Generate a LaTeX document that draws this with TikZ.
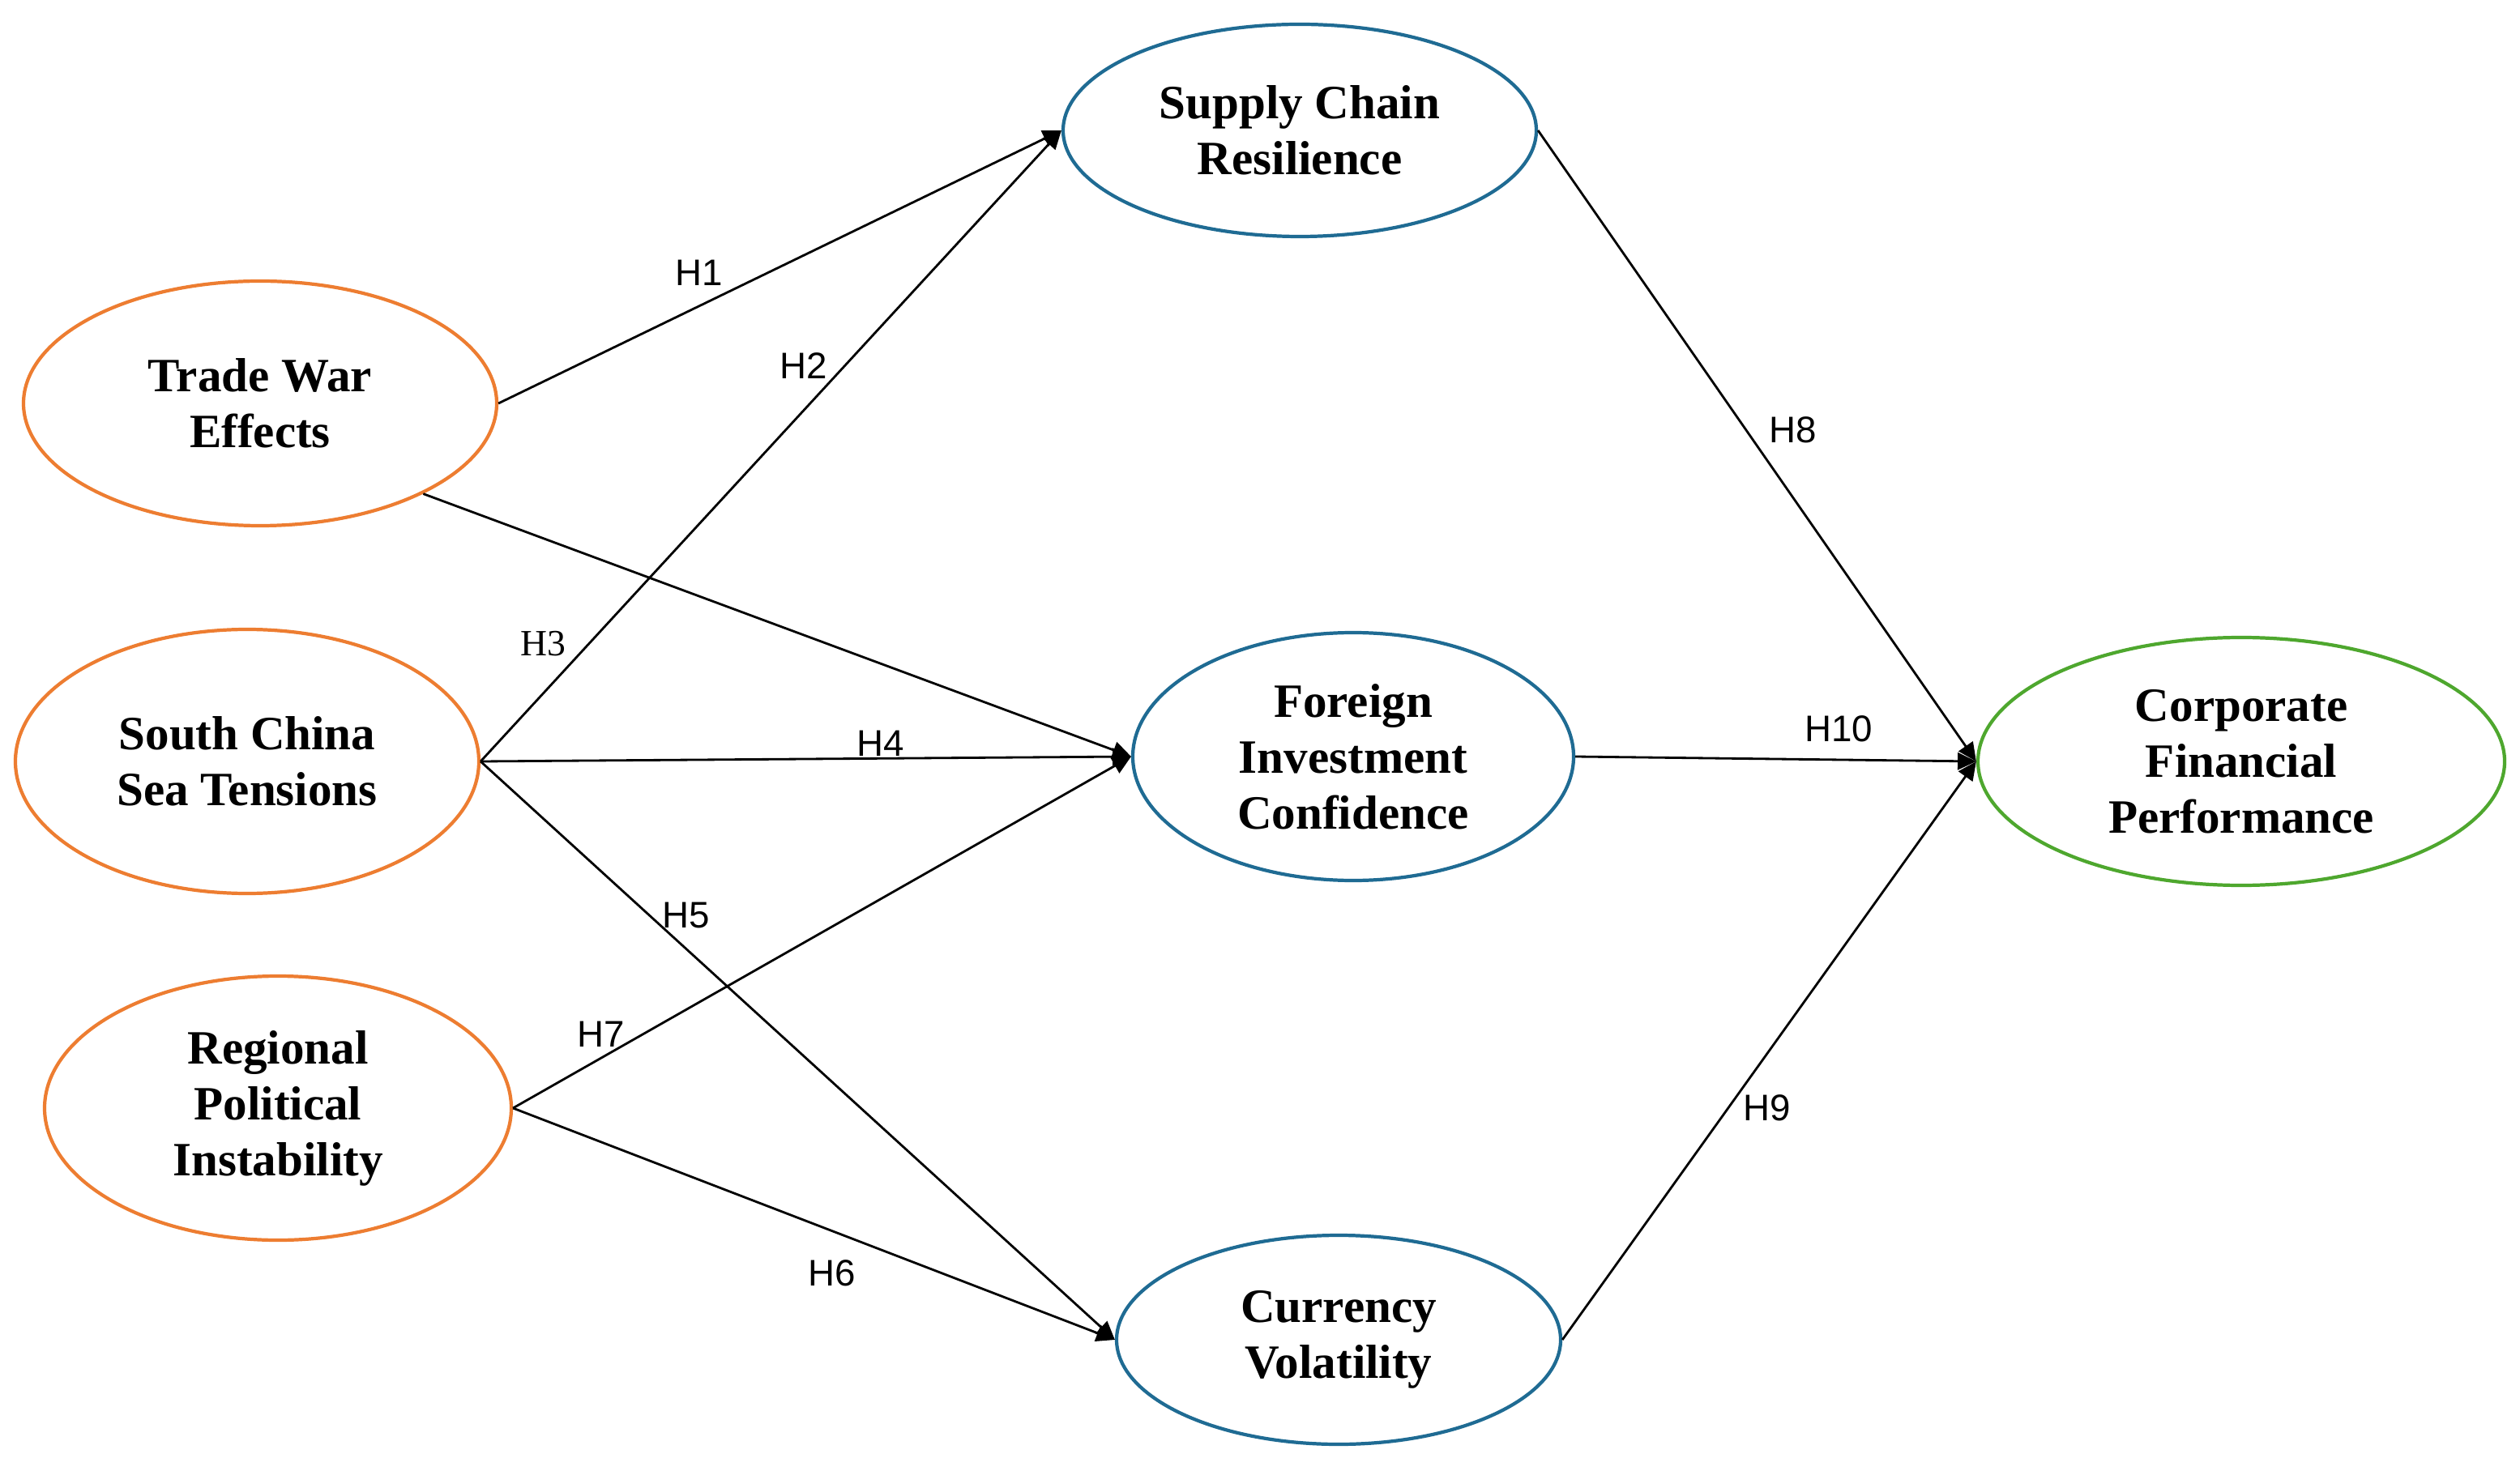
\documentclass[tikz,border=0pt]{standalone}
\usepackage{fontspec}
\setmainfont{Liberation Serif}
\newfontfamily\hfont{Liberation Sans}
\usetikzlibrary{arrows.meta, positioning, shapes.geometric}
\definecolor{indorange}{HTML}{ED7D31}
\definecolor{medblue}{HTML}{1F6B93}
\definecolor{outgreen}{HTML}{4EA72E}
\tikzset{
    construct/.style={
        ellipse,
        draw,
        line width=1.2pt,
        inner sep=0pt,
        align=center,
        font=\bfseries\fontsize{16.8}{19.6}\selectfont
    },
    hyp/.style={-{Triangle[length=6.5pt, width=6pt]}, line width=0.8pt},
    hlabel/.style={font=\hfont\fontsize{13}{15}\selectfont, inner sep=0pt}
}
\begin{document}
\begin{tikzpicture}[
    indep/.style={construct, draw=indorange},
    mediator/.style={construct, draw=medblue},
    outcome/.style={construct, draw=outgreen}
]
\useasboundingbox (0,0) rectangle (31.1,18.15);

% independent variables
\node[indep, minimum width=5.84cm, minimum height=3.02cm] (twe) at (3.21,13.17) {Trade War\\ Effects};
\node[indep, minimum width=5.72cm, minimum height=3.26cm] (scs) at (3.05,8.75) {South China\\ Sea Tensions};
\node[indep, minimum width=5.76cm, minimum height=3.26cm] (rpi) at (3.43,4.47) {Regional\\ Political\\ Instability};

% mediators
\node[mediator, minimum width=5.84cm, minimum height=2.62cm] (scr) at (16.04,16.54) {Supply Chain\\ Resilience};
\node[mediator, minimum width=5.44cm, minimum height=3.06cm] (fic) at (16.70,8.81) {Foreign\\ Investment\\ Confidence};
\node[mediator, minimum width=5.48cm, minimum height=2.58cm] (cv) at (16.52,1.61) {Currency\\ Volatility};

% outcome
\node[outcome, minimum width=6.50cm, minimum height=3.06cm] (cfp) at (27.66,8.75) {Corporate\\ Financial\\ Performance};

% hypothesised paths
\draw[hyp] (twe.east) -- (scr.west);
\draw[hyp] (scs.east) -- (scr.west);
\draw[hyp] (twe.-29) -- (fic.west);
\draw[hyp] (scs.east) -- (fic.west);
\draw[hyp] (scs.east) -- (cv.west);
\draw[hyp] (rpi.east) -- (fic.west);
\draw[hyp] (rpi.east) -- (cv.west);
\draw[hyp] (scr.east) -- (cfp.west);
\draw[hyp] (fic.east) -- (cfp.west);
\draw[hyp] (cv.east) -- (cfp.west);

% path labels
\node[hlabel] (h1) at (8.63,14.78) {H1};
\node[hlabel] (h2) at (9.92,13.63) {H2};
\node[font=\fontsize{13}{15}\selectfont, inner sep=0pt] (h3) at (6.70,10.20) {H3};
\node[hlabel] (h4) at (10.87,8.97) {H4};
\node[hlabel] (h5) at (8.47,6.85) {H5};
\node[hlabel] (h6) at (10.27,2.43) {H6};
\node[hlabel] (h7) at (7.42,5.38) {H7};
\node[hlabel] (h8) at (22.13,12.84) {H8};
\node[hlabel] (h9) at (21.81,4.47) {H9};
\node[hlabel] (h10) at (22.69,9.15) {H10};

\end{tikzpicture}
\end{document}
